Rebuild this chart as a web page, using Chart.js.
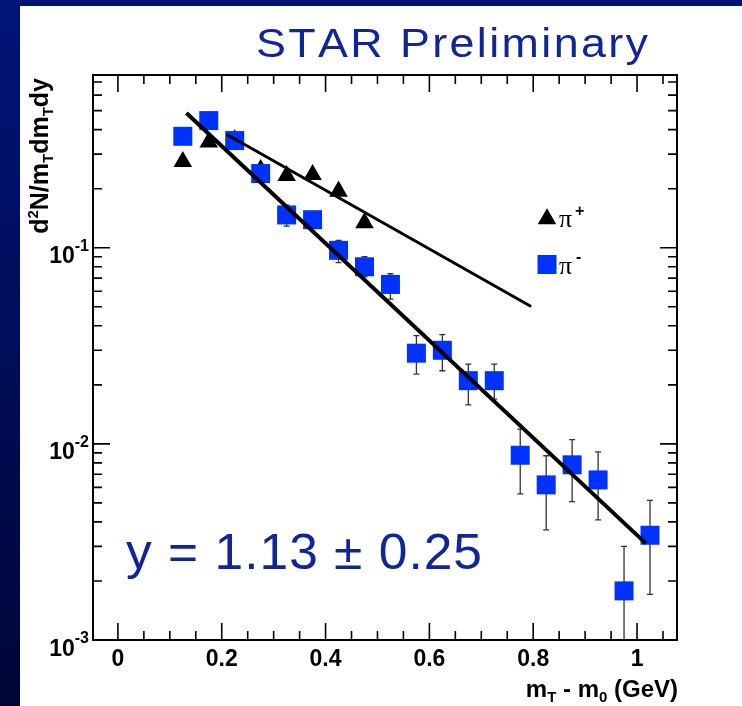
<!DOCTYPE html>
<html>
<head>
<meta charset="utf-8">
<script src="https://cdn.jsdelivr.net/npm/chart.js@4.4.1/dist/chart.umd.min.js"></script>
<style>
  html, body { margin: 0; padding: 0; background: #001478; }
  canvas { display: block; }
</style>
</head>
<body>
<canvas id="chart" width="742" height="706"></canvas>
<script>
/* global Chart */

// pi- (blue squares): bin centres in mT - m0 (GeV), yields and error band
const mtBins = [0.125, 0.175, 0.225, 0.275, 0.325, 0.375, 0.425, 0.475, 0.525, 0.575,
  0.625, 0.675, 0.725, 0.775, 0.825, 0.875, 0.925, 0.975, 1.025];
const piMinus = [0.370, 0.445, 0.352, 0.239, 0.147, 0.139, 0.097, 0.080, 0.065, 0.029,
  0.030, 0.021, 0.021, 0.00875, 0.00618, 0.00782, 0.00655, 0.00178, 0.00342];
const piMinusLo = [0.345, 0.425, 0.335, 0.225, 0.129, 0.130, 0.084, 0.071, 0.0547, 0.0227,
  0.0236, 0.0158, 0.0169, 0.00556, 0.00364, 0.00508, 0.0041, 0.0005, 0.00171];
const piMinusHi = [0.395, 0.465, 0.370, 0.252, 0.165, 0.149, 0.109, 0.090, 0.0737, 0.0356,
  0.0361, 0.0255, 0.0255, 0.0119, 0.0087, 0.0105, 0.0091, 0.0030, 0.00515];

// pi+ (black triangles)
const piPlusBins = [0.125, 0.175, 0.225, 0.275, 0.325, 0.375, 0.425, 0.475];
const piPlus = [0.275, 0.345, 0.355, 0.250, 0.233, 0.236, 0.194, 0.134];

// exponential fits (straight on the log axis)
const fitMinusX = [0.132, 1.017];
const fitMinusY = [0.486, 0.00311];
const fitPlusX = [0.21, 0.796];
const fitPlusY = [0.378, 0.0502];

// axis ticks
const xMajorTicks = [0, 0.2, 0.4, 0.6, 0.8, 1];
const xTickLabels = ["0", "0.2", "0.4", "0.6", "0.8", "1"];
const yDecades = [-3, -2, -1];
const yTickLabels = ["-3", "-2", "-1"];

const BLUE = "#0032ff";
const TEXT_BLUE = "#10259a";
const SANS = "'Liberation Sans', Arial, Helvetica, sans-serif";

function pts(xs, ys) {
  return xs.map((x, i) => ({ x, y: ys[i] }));
}

// draw text stretched a little and spaced so it spans a given width
function spacedText(ctx, text, x, y, width, stretch) {
  const chars = [...text];
  const raw = chars.reduce((s, c) => s + ctx.measureText(c).width, 0) * stretch;
  const gap = (width - raw) / (chars.length - 1);
  for (const c of chars) {
    ctx.save();
    ctx.translate(x, y);
    ctx.scale(stretch, 1);
    ctx.fillText(c, 0, 0);
    ctx.restore();
    x += ctx.measureText(c).width * stretch + gap;
  }
}

function richWidth(ctx, parts) {
  return parts.reduce((w, p) => {
    ctx.font = `bold ${p.size}px ${SANS}`;
    return w + ctx.measureText(p.t).width;
  }, 0);
}

function richText(ctx, parts, x, y) {
  for (const p of parts) {
    ctx.font = `bold ${p.size}px ${SANS}`;
    ctx.fillText(p.t, x, y + (p.dy || 0));
    x += ctx.measureText(p.t).width;
  }
}

function triangle(ctx, x, y, r) {
  ctx.beginPath();
  ctx.moveTo(x, y - r);
  ctx.lineTo(x + 0.866 * r, y + 0.5 * r);
  ctx.lineTo(x - 0.866 * r, y + 0.5 * r);
  ctx.closePath();
  ctx.fill();
}

const background = {
  id: "background",
  beforeDraw(chart) {
    const ctx = chart.ctx;
    const g = ctx.createLinearGradient(0, 0, 0, chart.height);
    g.addColorStop(0, "#001478");
    g.addColorStop(1, "#000537");
    ctx.save();
    ctx.fillStyle = g;
    ctx.fillRect(0, 0, chart.width, chart.height);
    ctx.fillStyle = "#fff";
    ctx.fillRect(20, 6, chart.width - 20, chart.height - 6);
    ctx.restore();
  },
};

const errorBars = {
  id: "errorBars",
  beforeDatasetsDraw(chart) {
    const { ctx, chartArea: a, scales: { x, y } } = chart;
    ctx.save();
    ctx.beginPath();
    ctx.rect(a.left, a.top, a.width, a.height);
    ctx.clip();
    ctx.strokeStyle = "#333";
    ctx.lineWidth = 1.3;
    ctx.beginPath();
    mtBins.forEach((v, i) => {
      const px = x.getPixelForValue(v);
      const lo = y.getPixelForValue(piMinusLo[i]);
      const hi = y.getPixelForValue(piMinusHi[i]);
      ctx.moveTo(px, lo); ctx.lineTo(px, hi);
      ctx.moveTo(px - 3, lo); ctx.lineTo(px + 3, lo);
      ctx.moveTo(px - 3, hi); ctx.lineTo(px + 3, hi);
    });
    ctx.stroke();
    ctx.restore();
  },
};

const frame = {
  id: "frame",
  afterDatasetsDraw(chart) {
    const { ctx, chartArea: a, scales: { x, y } } = chart;
    ctx.save();
    ctx.strokeStyle = "#000";
    ctx.lineWidth = 1.6;
    ctx.beginPath();
    for (let i = -1; i <= 22; i++) {
      const v = i * 0.05;
      const px = x.getPixelForValue(v);
      if (px <= a.left + 1 || px >= a.right - 1) continue;
      const len = i % 4 === 0 ? 17 : 9;
      ctx.moveTo(px, a.bottom); ctx.lineTo(px, a.bottom - len);
      ctx.moveTo(px, a.top); ctx.lineTo(px, a.top + len);
    }
    for (let d = -3; d <= 0; d++) {
      for (let k = 1; k <= 9; k++) {
        const v = k * Math.pow(10, d);
        if (v < y.min || v > y.max) continue;
        const py = y.getPixelForValue(v);
        const len = k === 1 ? 17 : 9;
        ctx.moveTo(a.left, py); ctx.lineTo(a.left + len, py);
        ctx.moveTo(a.right, py); ctx.lineTo(a.right - len, py);
      }
    }
    ctx.stroke();
    ctx.lineWidth = 2;
    ctx.strokeRect(a.left, a.top, a.width, a.height);
    ctx.restore();
  },
  afterDraw(chart) {
    const { ctx, chartArea: a, scales: { x, y } } = chart;
    ctx.save();
    ctx.fillStyle = "#000";
    ctx.textBaseline = "alphabetic";

    // x tick labels
    ctx.font = `bold 23px ${SANS}`;
    ctx.textAlign = "center";
    xMajorTicks.forEach((v, i) => {
      ctx.fillText(xTickLabels[i], x.getPixelForValue(v), a.bottom + 26);
    });

    // y tick labels 10^n
    ctx.textAlign = "left";
    yDecades.forEach((d, i) => {
      const py = y.getPixelForValue(Math.pow(10, d));
      ctx.font = `bold 16px ${SANS}`;
      const sw = ctx.measureText(yTickLabels[i]).width;
      const right = a.left - 4;
      ctx.fillText(yTickLabels[i], right - sw, py + 3);
      ctx.font = `bold 23px ${SANS}`;
      const bw = ctx.measureText("10").width;
      ctx.fillText("10", right - sw - bw, py + 15.5);
    });

    // x title
    const xTitle = [
      { t: "m", size: 24 }, { t: "T", size: 15, dy: 5 },
      { t: " - m", size: 24 }, { t: "0", size: 15, dy: 5 },
      { t: " (GeV)", size: 24 },
    ];
    richText(ctx, xTitle, a.right + 1 - richWidth(ctx, xTitle), 697);

    // y title
    const yTitle = [
      { t: "d", size: 25 }, { t: "2", size: 15, dy: -10 },
      { t: "N/m", size: 25 }, { t: "T", size: 15, dy: 5 },
      { t: "dm", size: 25 }, { t: "T", size: 15, dy: 5 },
      { t: "dy", size: 25 },
    ];
    ctx.save();
    ctx.translate(48, 78);
    ctx.rotate(-Math.PI / 2);
    richText(ctx, yTitle, -richWidth(ctx, yTitle), 0);
    ctx.restore();

    // legend
    ctx.fillStyle = "#000";
    triangle(ctx, 547, 219, 10.7);
    ctx.fillStyle = BLUE;
    ctx.fillRect(537.5, 255, 19, 19);
    ctx.fillStyle = "#000";
    ctx.font = `26px 'Liberation Serif', 'Times New Roman', serif`;
    ctx.fillText("\u03c0", 559, 227);
    ctx.fillText("\u03c0", 559, 274);
    ctx.font = `bold 16px ${SANS}`;
    ctx.fillText("+", 575, 216);
    ctx.fillText("-", 576, 262);

    // annotations
    ctx.fillStyle = TEXT_BLUE;
    ctx.font = `40px ${SANS}`;
    spacedText(ctx, "STAR Preliminary", 256, 57, 392, 1.12);
    ctx.font = `50px ${SANS}`;
    spacedText(ctx, "y = 1.13 \u00b1 0.25", 126, 569, 356, 1.03);
    ctx.restore();
  },
};

new Chart(document.getElementById("chart"), {
  type: "scatter",
  data: {
    datasets: [
      { label: "fit pi-", data: pts(fitMinusX, fitMinusY), showLine: true, borderColor: "#000",
        borderWidth: 4, pointRadius: 0, order: 0 },
      { label: "fit pi+", data: pts(fitPlusX, fitPlusY), showLine: true, borderColor: "#000",
        borderWidth: 3, pointRadius: 0, order: 0 },
      { label: "pi-", data: pts(mtBins, piMinus), pointStyle: "rect", pointRadius: 13.43,
        backgroundColor: BLUE, borderWidth: 0, order: 1 },
      { label: "pi+", data: pts(piPlusBins, piPlus), pointStyle: "triangle", pointRadius: 10.7,
        backgroundColor: "#000", borderWidth: 0, order: 2 },
    ],
  },
  options: {
    responsive: false,
    animation: false,
    events: [],
    layout: { padding: { left: 93, top: 75, right: 65, bottom: 66 } },
    plugins: { legend: { display: false }, tooltip: { enabled: false } },
    scales: {
      x: { type: "linear", min: -0.048, max: 1.077, display: false },
      y: { type: "logarithmic", min: 0.001, max: 0.76, display: false },
    },
  },
  plugins: [background, errorBars, frame],
});
</script>
</body>
</html>
